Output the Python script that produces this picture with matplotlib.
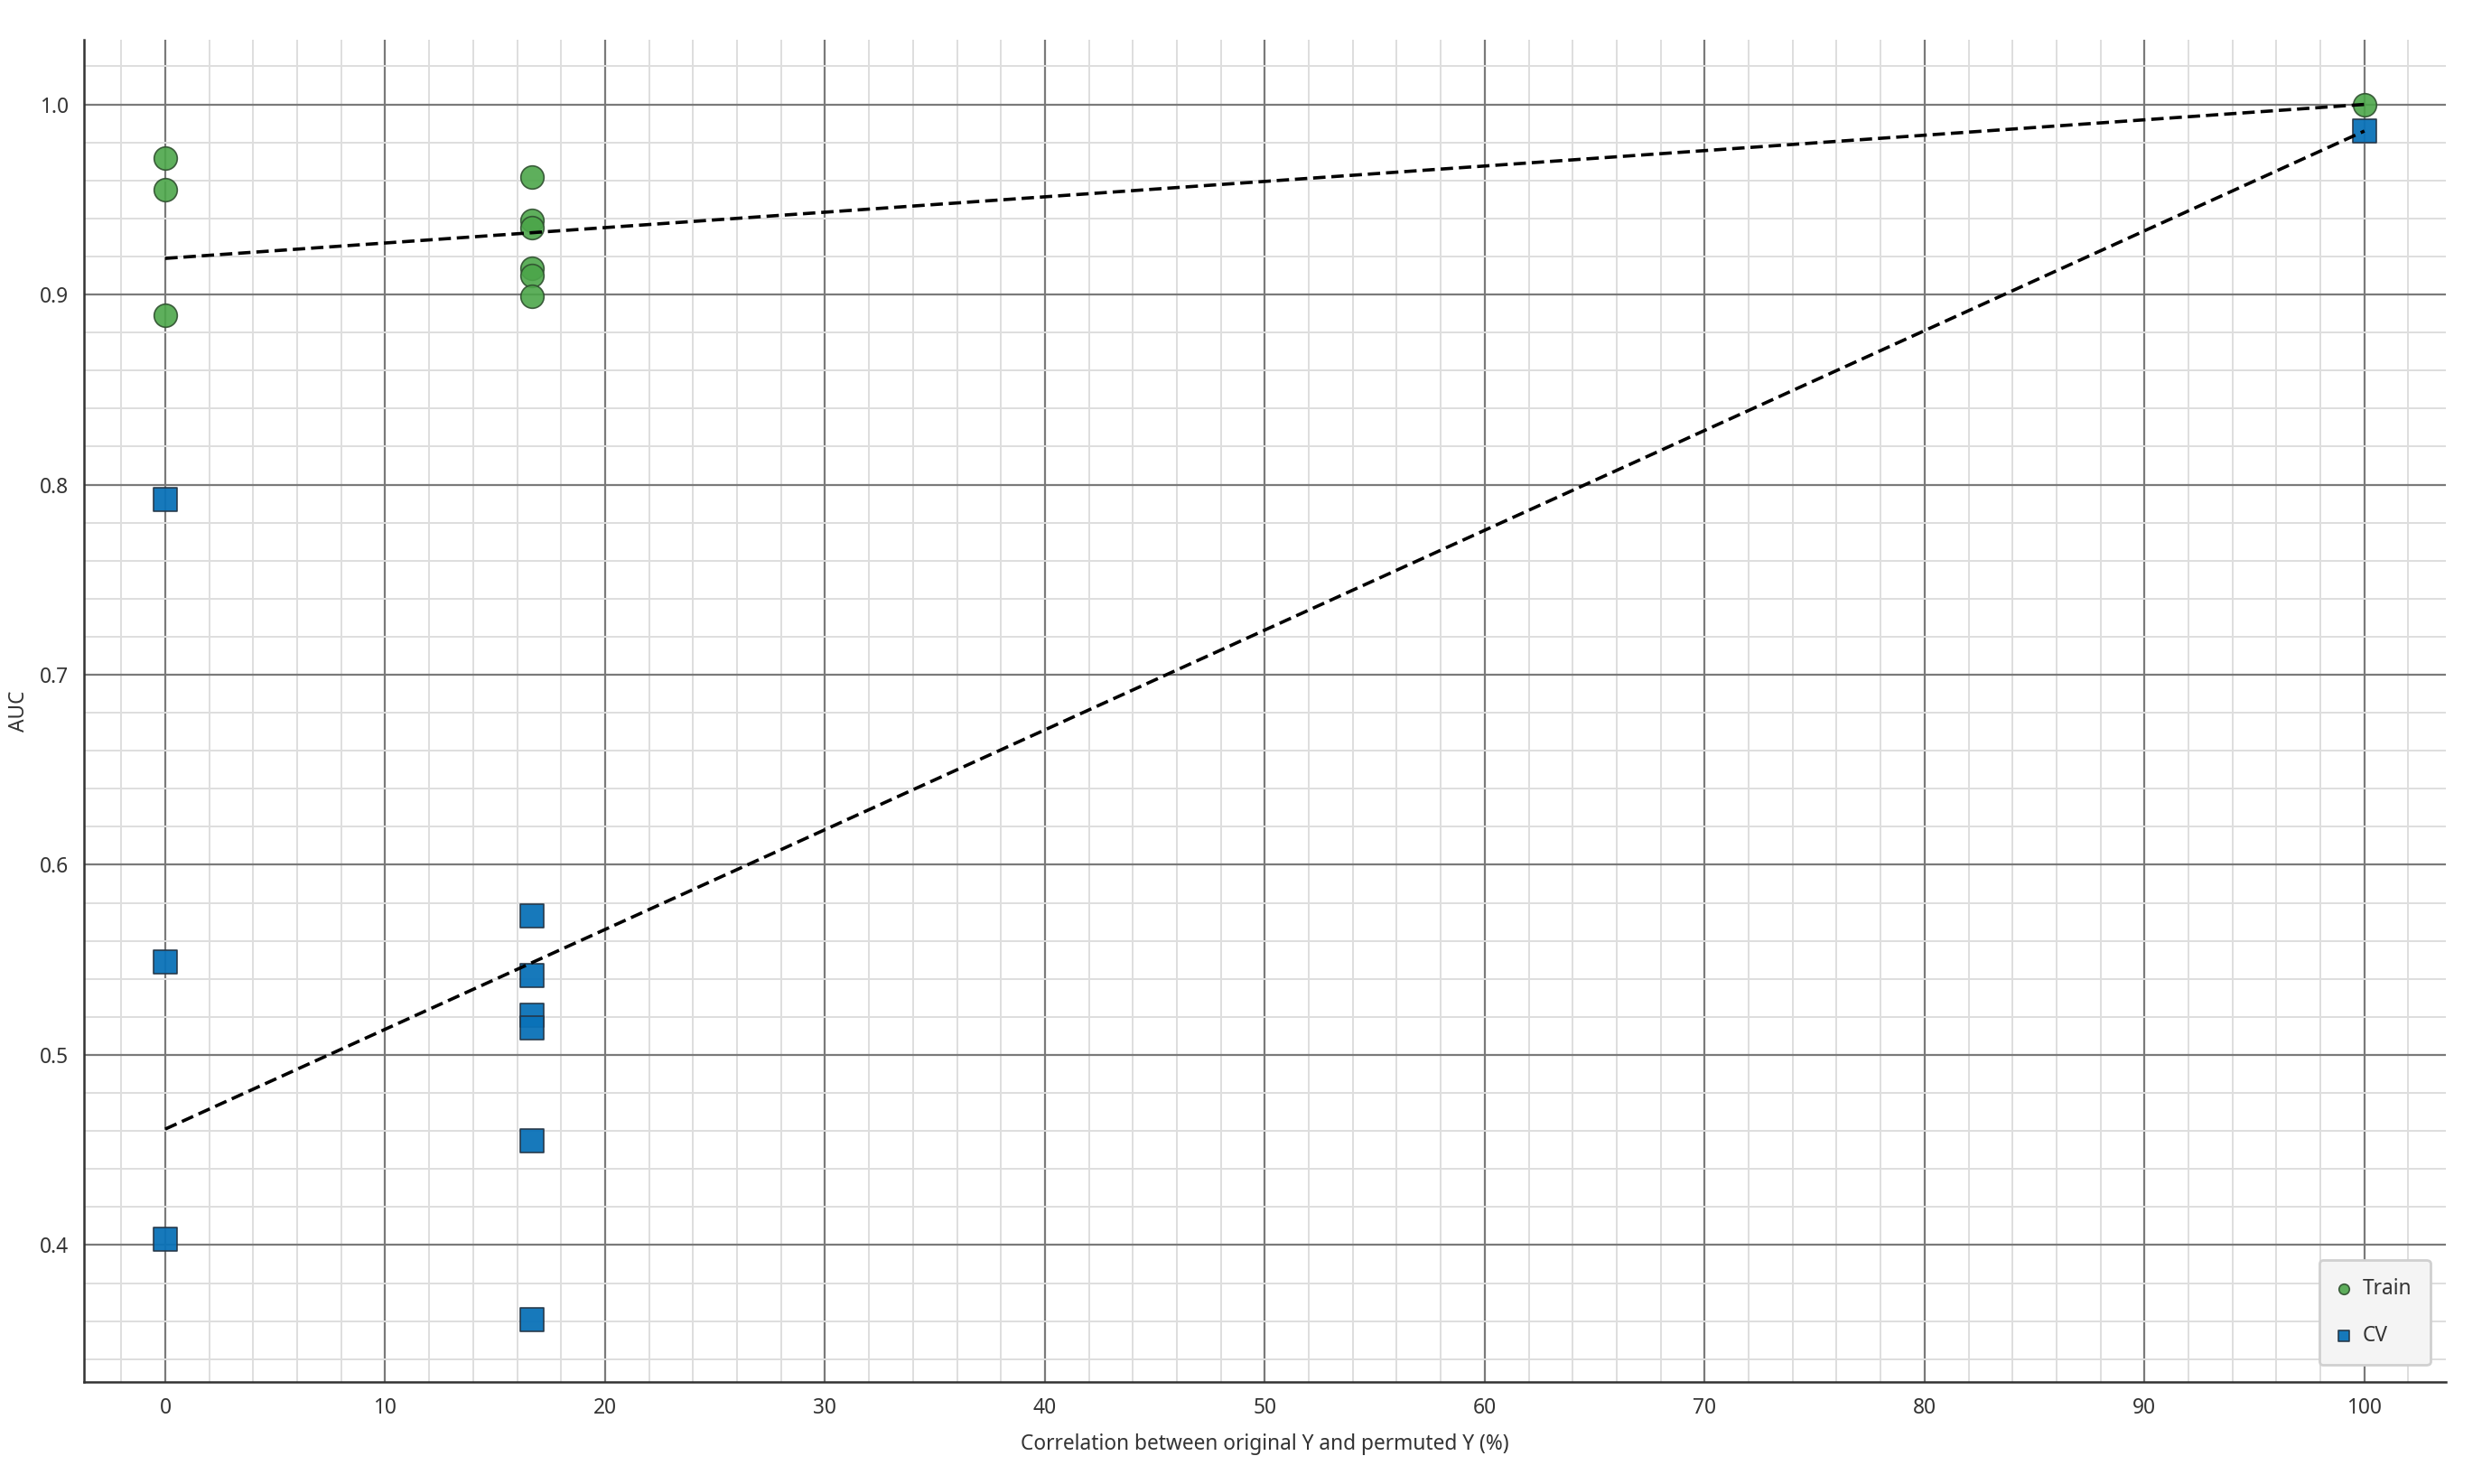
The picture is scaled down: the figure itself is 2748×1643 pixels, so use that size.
import matplotlib
matplotlib.use("agg")
from matplotlib import pyplot as plt
from matplotlib.ticker import MultipleLocator

# permutation test results
x_train = [0, 0, 0, 16.67, 16.67, 16.67, 16.67, 16.67, 16.67, 100]
auc_train = [0.972, 0.955, 0.889, 0.962, 0.939, 0.935, 0.914, 0.910, 0.899, 1.0]

x_cv = [0, 0, 0, 16.67, 16.67, 16.67, 16.67, 16.67, 16.67, 100]
auc_cv = [0.792, 0.549, 0.403, 0.573, 0.542, 0.521, 0.514, 0.455, 0.361, 0.986]

# regression lines (start at 0 %, end at 100 %)
fit_x = [0, 100]
fit_train = [0.919, 1.0]
fit_cv = [0.461, 0.986]

plt.rcParams['font.family'] = ['Noto Sans', 'DejaVu Sans']

fig = plt.figure(figsize=(13.74, 8.215), dpi=200)
ax = fig.add_axes([0.0338, 0.0688, 0.9516, 0.9044])

ax.scatter(x_train, auc_train, s=85, marker='o', color='#4ca64a',
           edgecolor='#2f4f2f', linewidth=0.6, alpha=0.9, zorder=3, label='Train')
ax.scatter(x_cv, auc_cv, s=85, marker='s', color='#0a72b8',
           edgecolor='#253545', linewidth=0.6, alpha=0.95, zorder=3, label='CV')

ax.plot(fit_x, fit_train, color='black', lw=1.3, ls=(0, (3.8, 1.8)), zorder=4)
ax.plot(fit_x, fit_cv, color='black', lw=1.3, ls=(0, (3.8, 1.8)), zorder=4)

ax.set_xlim(-3.7, 103.7)
ax.set_ylim(0.328, 1.034)

ax.xaxis.set_major_locator(MultipleLocator(10))
ax.xaxis.set_minor_locator(MultipleLocator(2))
ax.yaxis.set_major_locator(MultipleLocator(0.1))
ax.yaxis.set_minor_locator(MultipleLocator(0.02))

ax.grid(which='major', color='#7a7a7a', lw=0.8, zorder=0)
ax.grid(which='minor', color='#dedede', lw=0.7, zorder=0)
ax.set_axisbelow(True)

for s in ['top', 'right']:
    ax.spines[s].set_visible(False)
for s in ['left', 'bottom']:
    ax.spines[s].set_color('#333333')
    ax.spines[s].set_linewidth(0.9)

ax.tick_params(which='both', length=0, labelsize=8.2, colors='#333333', pad=6)

ax.set_xlabel('Correlation between original Y and permuted Y (%)', fontsize=8.2,
              color='#333333', labelpad=6)
ax.set_ylabel('AUC', fontsize=8.2, color='#333333', labelpad=4)

leg = ax.legend(loc='lower right', fontsize=8.2, markerscale=0.45, handlelength=0.6,
                handletextpad=0.6, labelspacing=1.2, borderpad=0.9,
                borderaxespad=0.3, facecolor='#f4f4f4', edgecolor='#d0d0d0',
                framealpha=1.0, bbox_to_anchor=(0.996, 0.008))
for t in leg.get_texts():
    t.set_color('#333333')

fig.savefig("out.png", dpi=200)
